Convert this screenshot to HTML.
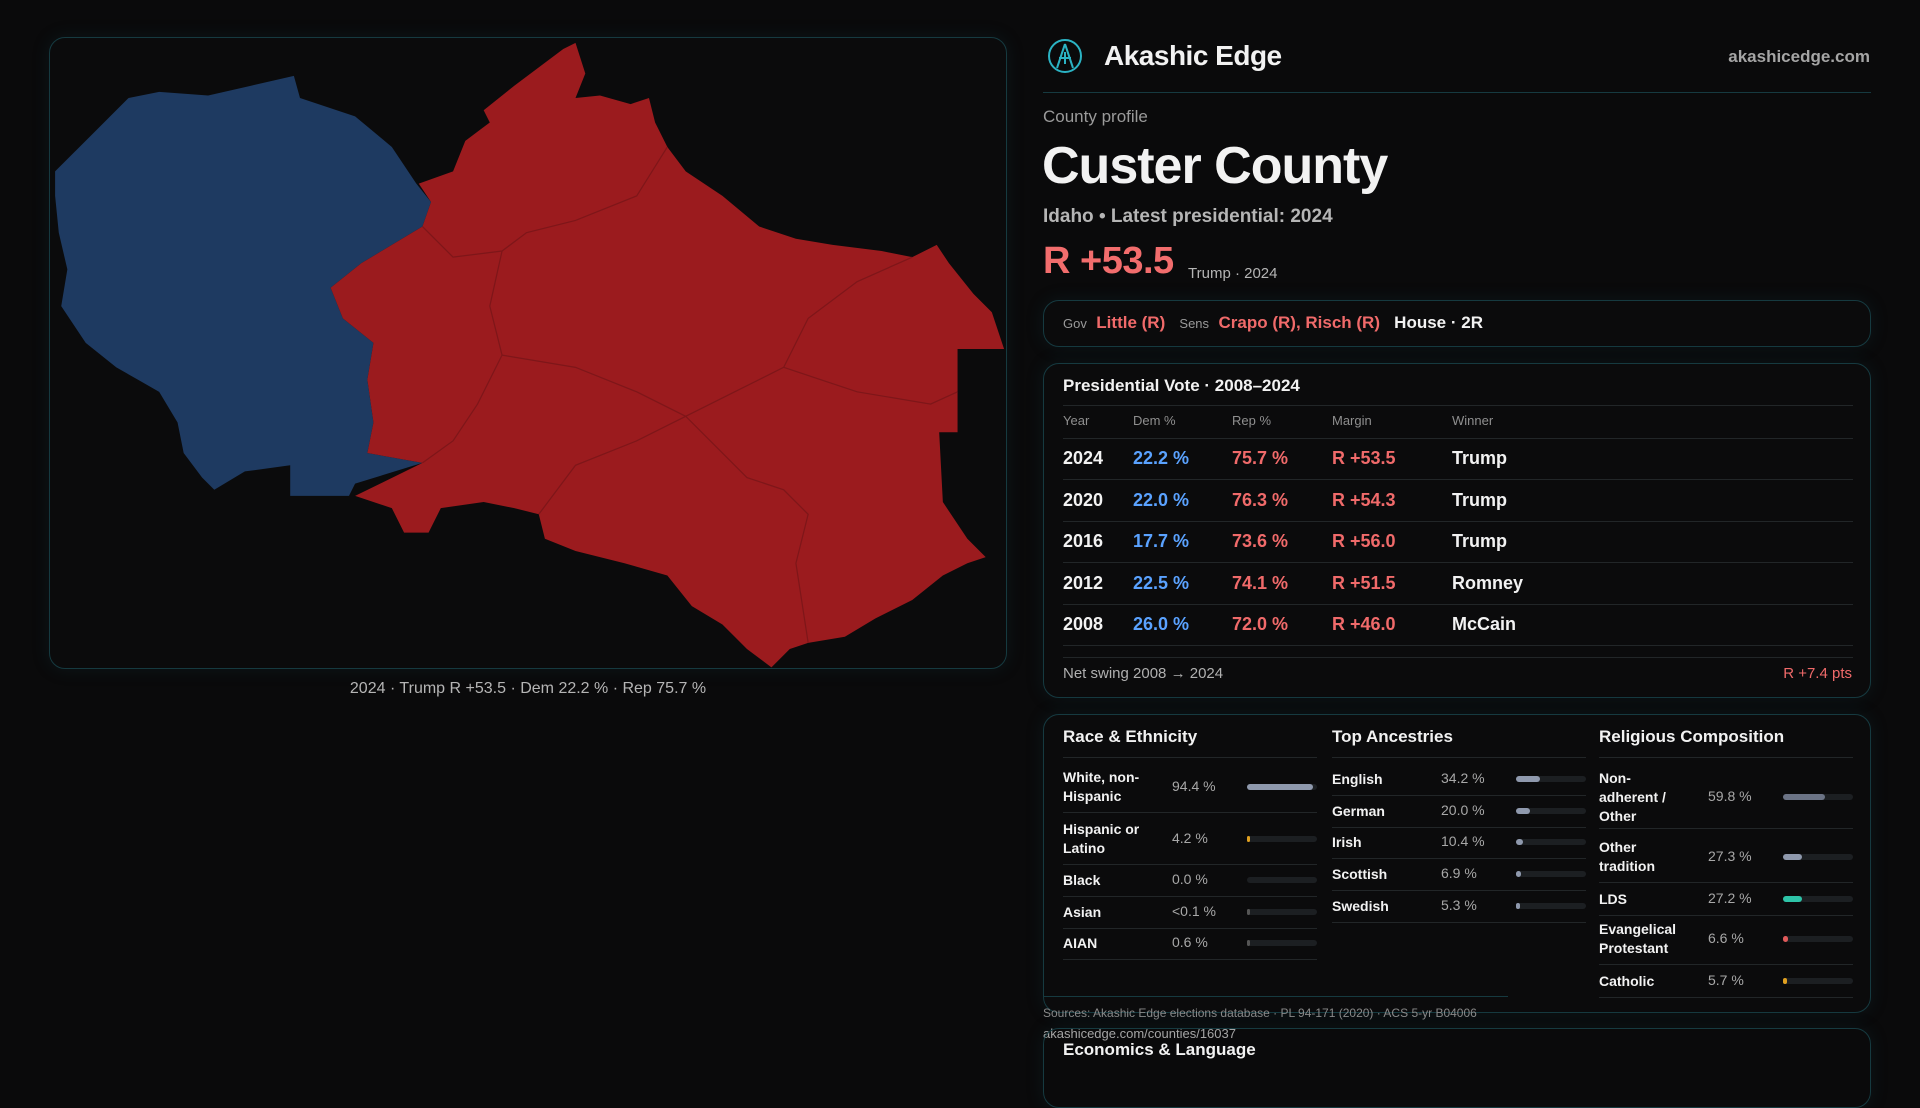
<!DOCTYPE html>
<html><head><meta charset="utf-8"><style>
*{margin:0;padding:0;box-sizing:border-box}
body{width:1920px;height:1080px;background:#0a0a0b;font-family:"Liberation Sans",sans-serif;color:#f2f2f2;position:relative;overflow:hidden}
.a{position:absolute;white-space:nowrap}
.box{position:absolute;border:1px solid #163a40;border-radius:16px;background:#0b0b0c;box-shadow:0 0 18px rgba(20,80,90,.18)}
.sep{position:absolute;height:1px;background:#222628}
.muted{color:#9a9a9a}
.red{color:#f06a6a}.blue{color:#5aa2ff}
</style></head><body>
<div class="box" style="left:49px;top:37px;width:958px;height:632px"></div>
<svg class="a" style="left:0;top:0" width="1920" height="1080" viewBox="0 0 1568 882">
<path fill="#1e3a61" d="M45,140 L105,80 130,75 170,78 205,70 240,62 245,80 290,95 320,120 340,150 352,165 345,185 320,200 295,215 270,235 280,260 305,280 300,310 305,345 300,370 345,378 290,395 285,405 237,405 237,380 200,385 175,400 165,390 150,370 145,345 130,320 95,300 70,280 50,250 55,220 48,190 45,160Z"/>
<path fill="#9b1b1e" d="M342,150 L370,140 380,115 400,100 395,90 420,70 440,55 460,40 470,35 478,60 470,80 490,78 515,85 530,80 535,100 545,120 560,140 590,160 620,185 650,195 680,200 720,205 745,210 765,200 775,215 795,240 810,255 820,285 782,285 782,353 767,353 770,410 790,440 805,455 790,460 770,470 745,490 715,505 690,520 660,525 645,530 630,545 610,530 590,510 565,495 545,470 510,460 470,450 445,440 440,420 420,415 395,410 360,415 350,435 330,435 320,415 290,405 345,378 300,370 305,345 300,310 305,280 280,260 270,235 295,215 320,200 345,185 352,165Z"/>
<g fill="none" stroke="#7e1619" stroke-width="1">
<path d="M345,185 L370,210 410,205 430,190 470,180 520,160 545,120"/>
<path d="M410,205 L400,250 410,290 390,330 370,360 345,378"/>
<path d="M410,290 L470,300 520,320 560,340 600,320 640,300 660,260 700,230 745,210"/>
<path d="M560,340 L590,370 610,390 640,400 660,420 650,460 660,525"/>
<path d="M440,420 L470,380 520,360 560,340"/>
<path d="M640,300 L700,320 760,330 782,320"/>
</g>
</svg>
<div class="a muted" style="left:0;width:1056px;text-align:center;top:680px;font-size:16px;color:#b5b5b5">2024 · Trump R +53.5 · Dem 22.2 % · Rep 75.7 %</div>

<svg class="a" style="left:1047px;top:38px" width="36" height="36" viewBox="0 0 36 36"><circle cx="18" cy="18" r="16" fill="none" stroke="#2bb3c4" stroke-width="2"/><path d="M18 6 L10 30 M18 6 L26 30 M12 20 H24 M18 14 V26" stroke="#2bb3c4" stroke-width="2" fill="none"/></svg>
<div class="a" style="left:1104px;top:40px;font-size:28px;font-weight:bold;letter-spacing:-0.5px">Akashic Edge</div>
<div class="a" style="right:50px;top:47px;font-size:17px;font-weight:bold;color:#a5a5a5">akashicedge.com</div>
<div class="sep" style="left:1043px;top:92px;width:828px;background:#163a40"></div>
<div class="a" style="left:1043px;top:107px;font-size:17px;color:#9a9a9a">County profile</div>
<div class="a" style="left:1042px;top:136px;font-size:52px;font-weight:bold;letter-spacing:-1px">Custer County</div>
<div class="a" style="left:1043px;top:206px;font-size:19px;color:#b5b5b5;font-weight:bold">Idaho • Latest presidential: 2024</div>
<div class="a red" style="left:1043px;top:240px;font-size:38px;font-weight:bold;color:#f26d6d;letter-spacing:-0.5px">R +53.5</div>
<div class="a" style="left:1188px;top:265px;font-size:15px;color:#b5b5b5">Trump · 2024</div>

<div class="box" style="left:1043px;top:300px;width:828px;height:47px"></div>
<div class="a" style="left:1063px;top:313px;font-size:17px;font-weight:bold">
<span style="font-size:13px;color:#9a9a9a;font-weight:normal">Gov</span>&nbsp; <span class="red">Little (R)</span> &nbsp;&nbsp;<span style="font-size:13px;color:#9a9a9a;font-weight:normal">Sens</span>&nbsp; <span class="red">Crapo (R), Risch (R)</span> &nbsp;&nbsp;<span>House · 2R</span></div>

<div class="box" style="left:1043px;top:363px;width:828px;height:335px"></div>
<div class="a" style="left:1063px;top:376px;font-size:17px;font-weight:bold">Presidential Vote · 2008–2024</div>
<div class="sep" style="left:1063px;top:405px;width:790px"></div>
<div id="ptable"></div>
<div class="sep" style="left:1063px;top:657px;width:790px"></div>
<div class="a" style="left:1063px;top:665px;font-size:15px;color:#b0b0b0">Net swing 2008 → 2024</div>
<div class="a red" style="right:68px;top:665px;font-size:15px">R +7.4 pts</div>

<div class="box" style="left:1043px;top:714px;width:828px;height:299px"></div>
<div id="demo"></div>
<div class="sep" style="left:1043px;top:996px;width:465px;background:#163a40"></div>
<div class="a" style="left:1043px;top:1006px;font-size:12px;color:#8a8a8a">Sources: Akashic Edge elections database · PL 94-171 (2020) · ACS 5-yr B04006</div>
<div class="a" style="left:1043px;top:1026px;font-size:13px;color:#a5a5a5">akashicedge.com/counties/16037</div>
<div class="box" style="left:1043px;top:1028px;width:828px;height:80px;background:transparent"></div>
<div class="a" style="left:1063px;top:1040px;font-size:17px;font-weight:bold">Economics &amp; Language</div>

<script>
const years=["2024","2020","2016","2012","2008"];
const demPct=[22.2,22.0,17.7,22.5,26.0];
const repPct=[75.7,76.3,73.6,74.1,72.0];
const margins=[53.5,54.3,56.0,51.5,46.0];
const winners=["Trump","Trump","Trump","Romney","McCain"];
const raceLabels=["White, non-Hispanic","Hispanic or Latino","Black","Asian","AIAN"];
const raceVals=[94.4,4.2,0.0,0.05,0.6];
const raceText=["94.4 %","4.2 %","0.0 %","<0.1 %","0.6 %"];
const ancLabels=["English","German","Irish","Scottish","Swedish"];
const ancVals=[34.2,20.0,10.4,6.9,5.3];
const relLabels=["Non-adherent / Other","Other tradition","LDS","Evangelical Protestant","Catholic"];
const relVals=[59.8,27.3,27.2,6.6,5.7];

const pt=document.getElementById('ptable');
function add(parent,html,style,name,inter){const d=document.createElement('div');d.className='a';d.innerHTML=html;d.style.cssText=style;


parent.appendChild(d);return d;}
const cols=[1063,1133,1232,1332,1452];
["Year","Dem %","Rep %","Margin","Winner"].forEach((h,i)=>add(pt,h,`left:${cols[i]}px;top:413px;font-size:13px;color:#8f8f8f`,'column-header',false));
add(pt,'',"left:1063px;top:438px;width:790px;height:1px;background:#222628",'header-sep',false);
years.forEach((y,i)=>{const top=448+i*41.6;
 add(pt,y,`left:${cols[0]}px;top:${top}px;font-size:18px;font-weight:bold`,'year-cell',false);
 add(pt,demPct[i].toFixed(1)+' %',`left:${cols[1]}px;top:${top}px;font-size:18px;font-weight:bold;color:#5aa2ff`,'dem-cell',false);
 add(pt,repPct[i].toFixed(1)+' %',`left:${cols[2]}px;top:${top}px;font-size:18px;font-weight:bold;color:#f06a6a`,'rep-cell',false);
 add(pt,'R +'+margins[i].toFixed(1),`left:${cols[3]}px;top:${top}px;font-size:18px;font-weight:bold;color:#f06a6a`,'margin-cell',false);
 add(pt,winners[i],`left:${cols[4]}px;top:${top}px;font-size:18px;font-weight:bold`,'winner-cell',false);
 add(pt,'',`left:1063px;top:${top+31}px;width:790px;height:1px;background:#222628`,'row-sep',false);
});
const dm=document.getElementById('demo');
function section(x,title,labels,vals,texts,colors,rowTops,rowH,lw,lines){
 add(dm,title,`left:${x}px;top:727px;font-size:17px;font-weight:bold`,'section-title',false);
 add(dm,'',`left:${x}px;top:757px;width:254px;height:1px;background:#222628`,'section-sep',false);
 labels.forEach((l,i)=>{const c=rowTops[i];
  add(dm,l,`left:${x}px;top:${c-lines[i]*9.5}px;width:${lw}px;white-space:normal;font-size:14px;line-height:19px;font-weight:bold`,'row-label',false);
  add(dm,texts[i],`left:${x+109}px;top:${c-9}px;font-size:14px;color:#a8a8a8`,'row-value',false);
  add(dm,'',`left:${x+184}px;top:${c-3}px;width:70px;height:6px;border-radius:3px;background:#1c1f22`,'bar-track',false);
  add(dm,'',`left:${x+184}px;top:${c-3}px;width:${Math.max(vals[i]>0.01?3:0,70*vals[i]/100)}px;height:6px;border-radius:3px;background:${colors[i]}`,'bar-fill',false);
  add(dm,'',`left:${x}px;top:${c+rowH[i]}px;width:254px;height:1px;background:#222628`,'row-sep',false);
 });
}
section(1063,"Race &amp; Ethnicity",raceLabels,raceVals,raceText,["#8f99ad","#e0a020","#555","#555","#555"],[787,839,880,912,943],[25,25,16,16,16],100,[2,2,1,1,1]);
section(1332,"Top Ancestries",ancLabels,ancVals,ancVals.map(v=>v.toFixed(1)+' %'),["#8f99ad","#8f99ad","#8f99ad","#8f99ad","#8f99ad"],[779,811,842,874,906],[16,16,16,16,16],100,[1,1,1,1,1]);
section(1599,"Religious Composition",relLabels,relVals,relVals.map(v=>v.toFixed(1)+' %'),["#6b7385","#8f99ad","#2ec4a8","#e05a5a","#e0a020"],[797,857,899,939,981],[31,25,16,25,16],82,[3,2,1,2,1]);
</script>
</body></html>
